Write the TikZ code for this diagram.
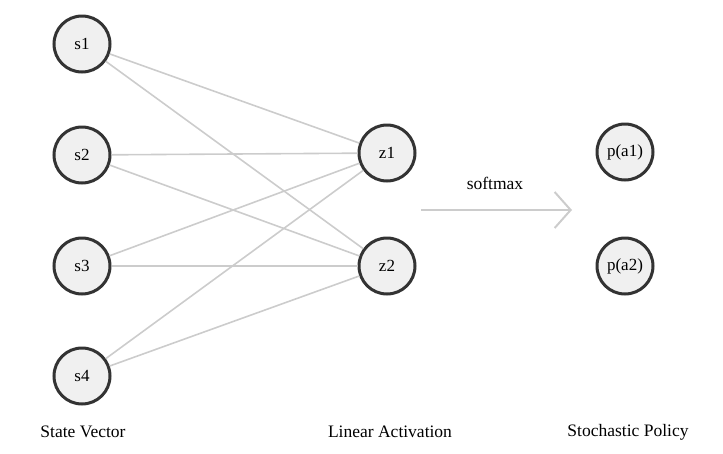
\documentclass[tikz,border=0pt]{standalone}
\usepackage{fontspec}
\setmainfont{Liberation Serif}
\usetikzlibrary{positioning,arrows.meta}

\begin{document}
\begin{tikzpicture}[x=1pt,y=-1pt,
    unit/.style={circle, draw=black!80, line width=3pt, fill=black!6,
      minimum size=56pt, inner sep=0pt, font=\fontsize{17}{20}\selectfont},
    wire/.style={draw=black!20, line width=1.6pt},
    caption/.style={font=\fontsize{17.5}{20}\selectfont}]
  \useasboundingbox (0,0) rectangle (723,453);

  \node (s1) [unit] at (82,44)  {s1};
  \node (s2) [unit] at (82,155) {s2};
  \node (s3) [unit] at (82,266) {s3};
  \node (s4) [unit] at (82,376) {s4};
  \node (z1) [unit] at (387,153) {z1};
  \node (z2) [unit] at (387,266) {z2};
  \node (pa1) [unit] at (625,152) {p(a1)};
  \node (pa2) [unit] at (625,266) {p(a2)};

  \path[wire]
    (s1) edge (z1)
    (s1) edge (z2)
    (s2) edge (z1)
    (s2) edge (z2)
    (s3) edge (z1)
    (s3) edge (z2)
    (s4) edge (z1)
    (s4) edge (z2);

  \coordinate (from) at (421,210);
  \coordinate (to) at (572,210);
  \draw[wire, -{Straight Barb[length=16pt, width=36pt, line width=2pt]}] (from) -- (to);
  \node (softmax) [caption] at (495,183) {softmax};

  \node (state) [caption] at (83,432) {State Vector};
  \node (linear) [caption] at (390,432) {Linear Activation};
  \node (policy) [caption] at (628,432) {Stochastic Policy};
\end{tikzpicture}
\end{document}
